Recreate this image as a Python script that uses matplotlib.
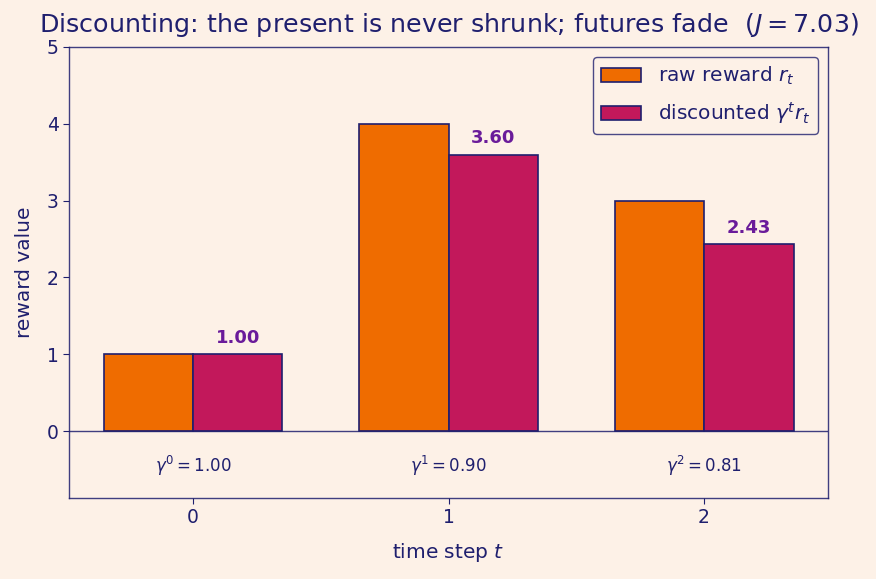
import matplotlib
matplotlib.use("Agg")
import matplotlib.pyplot as plt
import numpy as np

steps = [0, 1, 2]
raw_rewards = [1.0, 4.0, 3.0]
gamma = 0.9
discount_factors = [1.00, 0.90, 0.81]
discounted = [1.00, 3.60, 2.43]
J = 7.03

bg = "#fdf1e7"
navy = "#1f1f6e"
orange = "#ef6c00"
crimson = "#c2185b"
purple = "#6a1b9a"

fig = plt.figure(figsize=(8.76, 5.79), dpi=100, facecolor=bg)
ax = fig.add_axes([69/876, 1-498/579, (828-69)/876, (498-47)/579])
ax.set_facecolor(bg)

x = np.array(steps)
w = 0.35
ax.bar(x - w/2, raw_rewards, w, color=orange, edgecolor=navy, linewidth=1.2,
       label=r"raw reward $r_t$", zorder=3)
ax.bar(x + w/2, discounted, w, color=crimson, edgecolor=navy, linewidth=1.2,
       label=r"discounted $\gamma^t r_t$", zorder=3)

for xi, v in zip(x, discounted):
    ax.text(xi + w/2, v + 0.1, f"{v:.2f}", ha="center", va="bottom",
            color=purple, fontsize=13, fontweight="bold")

for xi, d in zip(x, discount_factors):
    ax.text(xi, -0.45, rf"$\gamma^{{{xi}}} = {d:.2f}$", ha="center", va="center",
            color=navy, fontsize=12)

ax.axhline(0, color=navy, linewidth=1.0, alpha=0.85, zorder=4)

ax.set_xlim(-0.485, 2.485)
ax.set_ylim(-0.87, 5)
ax.set_xticks(steps)
ax.set_yticks([0, 1, 2, 3, 4, 5])
ax.tick_params(colors=navy, labelsize=13.5, length=4)
for s in ax.spines.values():
    s.set_color(navy)
    s.set_alpha(0.85)
    s.set_linewidth(1.0)

ax.set_xlabel(r"time step $t$", color=navy, fontsize=14.5, labelpad=10)
ax.set_ylabel("reward value", color=navy, fontsize=14.5, labelpad=9)
ax.set_title(rf"Discounting: the present is never shrunk; futures fade  ($J = {J:.2f}$)",
             color=navy, fontsize=18.3, pad=11)

leg = ax.legend(loc="upper right", fontsize=14.5, frameon=True, facecolor=bg,
                edgecolor=navy, labelcolor=navy, fancybox=True, borderaxespad=0.5,
                labelspacing=0.65)
leg.get_frame().set_linewidth(1.0)

fig.savefig("out.png", dpi=100, facecolor=bg)
